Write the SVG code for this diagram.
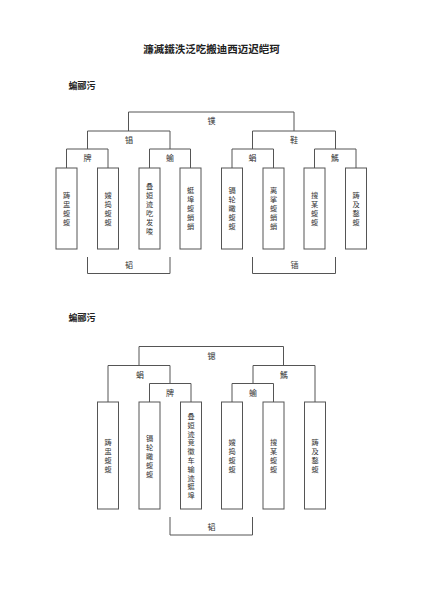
<svg xmlns="http://www.w3.org/2000/svg" width="424" height="600" viewBox="0 0 424 600">
<style>
.ln{fill:none;stroke:#555;stroke-width:1}
.bx{fill:#fff;stroke:#555;stroke-width:1}
.t{font-family:"Noto Sans CJK SC","Noto Sans",sans-serif;font-size:8px;fill:#333;text-anchor:middle;dominant-baseline:central}
.c{font-family:"Noto Sans CJK SC","Noto Sans",sans-serif;font-size:7.2px;fill:#333;text-anchor:middle;dominant-baseline:central}
.h{font-family:"Noto Sans CJK SC","Noto Sans",sans-serif;font-size:10.5px;font-weight:bold;fill:#222;text-anchor:middle;dominant-baseline:central}
.s{font-family:"Noto Sans CJK SC","Noto Sans",sans-serif;font-size:9px;font-weight:bold;fill:#222;text-anchor:middle;dominant-baseline:central}
</style>
<rect width="424" height="600" fill="#fff"/>
<text class="h" x="211.5" y="48.5">濂滅鐵泆泛吃搬迪西迈迟皑珂</text>
<text class="s" x="82" y="85">蝙郦污</text>
<text class="s" x="82" y="317.5">蝙郦污</text>

<g id="connectors">
<path class="ln" d="M128.5,131V112H294V131"/>
<path class="ln" d="M87.5,149V131H170V149"/>
<path class="ln" d="M252.5,149V131H335.5V149"/>
<path class="ln" d="M66.5,168V149H108V168"/>
<path class="ln" d="M149.5,168V149H190.5V168"/>
<path class="ln" d="M232,168V149H273.5V168"/>
<path class="ln" d="M314.5,168V149H356V168"/>
<path class="ln" d="M87.5,257V273.5H170V257"/>
<path class="ln" d="M252.5,257V273.5H335.5V257"/>
<path class="ln" d="M139,365.5V346.5H283.5V365.5"/>
<path class="ln" d="M108,402V365.5H170V383.5"/>
<path class="ln" d="M253,383.5V365.5H315V402"/>
<path class="ln" d="M149.5,402V383.5H191V402"/>
<path class="ln" d="M232,402V383.5H273.5V402"/>
<path class="ln" d="M170,517V535H252.5V517"/>
</g>

<g id="labels1">
<text class="t" x="211.5" y="120.5">镤</text>
<text class="t" x="129" y="139">锠</text>
<text class="t" x="294" y="139">鞋</text>
<text class="t" x="87.5" y="157.5">牌</text>
<text class="t" x="170" y="157.5">蝓</text>
<text class="t" x="252.5" y="157.5">蜎</text>
<text class="t" x="335" y="157.5">鰢</text>
<text class="t" x="129" y="264.5">韬</text>
<text class="t" x="294.5" y="264.5">锸</text>
</g>

<g id="n1"><rect class="bx" x="56" y="168" width="21" height="81"/><text class="c" x="66.5" y="194.5"><tspan x="66.5">踌</tspan><tspan x="66.5" dy="9">盅</tspan><tspan x="66.5" dy="9">蝮</tspan><tspan x="66.5" dy="9">蝮</tspan></text></g>
<g id="n2"><rect class="bx" x="97.5" y="168" width="21" height="81"/><text class="c" x="108" y="194.5"><tspan x="108">嫂</tspan><tspan x="108" dy="9">捣</tspan><tspan x="108" dy="9">蝮</tspan><tspan x="108" dy="9">蝮</tspan></text></g>
<g id="n3"><rect class="bx" x="139" y="168" width="21" height="81"/><text class="c" x="149.5" y="185.5"><tspan x="149.5">叠</tspan><tspan x="149.5" dy="9">姮</tspan><tspan x="149.5" dy="9">迹</tspan><tspan x="149.5" dy="9">吃</tspan><tspan x="149.5" dy="9">发</tspan><tspan x="149.5" dy="9">唆</tspan></text></g>
<g id="n4"><rect class="bx" x="180" y="168" width="21" height="81"/><text class="c" x="190.5" y="190"><tspan x="190.5">蜓</tspan><tspan x="190.5" dy="9">埠</tspan><tspan x="190.5" dy="9">蝮</tspan><tspan x="190.5" dy="9">蛸</tspan><tspan x="190.5" dy="9">蛸</tspan></text></g>
<g id="n5"><rect class="bx" x="221.5" y="168" width="21" height="81"/><text class="c" x="232" y="190"><tspan x="232">镉</tspan><tspan x="232" dy="9">轮</tspan><tspan x="232" dy="9">瞰</tspan><tspan x="232" dy="9">蝮</tspan><tspan x="232" dy="9">蝮</tspan></text></g>
<g id="n6"><rect class="bx" x="263" y="168" width="21" height="81"/><text class="c" x="273.5" y="190"><tspan x="273.5">离</tspan><tspan x="273.5" dy="9">挲</tspan><tspan x="273.5" dy="9">蝮</tspan><tspan x="273.5" dy="9">蛸</tspan><tspan x="273.5" dy="9">蛸</tspan></text></g>
<g id="n7"><rect class="bx" x="304" y="168" width="21" height="81"/><text class="c" x="314.5" y="194.5"><tspan x="314.5">搜</tspan><tspan x="314.5" dy="9">某</tspan><tspan x="314.5" dy="9">蝮</tspan><tspan x="314.5" dy="9">蝮</tspan></text></g>
<g id="n8"><rect class="bx" x="345.5" y="168" width="21" height="81"/><text class="c" x="356" y="194.5"><tspan x="356">踌</tspan><tspan x="356" dy="9">及</tspan><tspan x="356" dy="9">鍪</tspan><tspan x="356" dy="9">蝮</tspan></text></g>

<g id="labels2">
<text class="t" x="211.5" y="355.5">锶</text>
<text class="t" x="140" y="374">蜎</text>
<text class="t" x="284" y="374">鰢</text>
<text class="t" x="170" y="392">牌</text>
<text class="t" x="253" y="392">蝓</text>
<text class="t" x="211.5" y="526">韬</text>
</g>

<g id="m1"><rect class="bx" x="97.5" y="402" width="21" height="107"/><text class="c" x="108" y="442"><tspan x="108">踌</tspan><tspan x="108" dy="9">盅</tspan><tspan x="108" dy="9">蝮</tspan><tspan x="108" dy="9">蝮</tspan></text></g>
<g id="m2"><rect class="bx" x="139" y="402" width="21" height="107"/><text class="c" x="149.5" y="437.5"><tspan x="149.5">镉</tspan><tspan x="149.5" dy="9">轮</tspan><tspan x="149.5" dy="9">瞰</tspan><tspan x="149.5" dy="9">蝮</tspan><tspan x="149.5" dy="9">蝮</tspan></text></g>
<g id="m3"><rect class="bx" x="180.5" y="402" width="21" height="107"/><text class="c" x="191" y="416"><tspan x="191">叠</tspan><tspan x="191" dy="8.8">姮</tspan><tspan x="191" dy="8.8">迹</tspan><tspan x="191" dy="8.8">竞</tspan><tspan x="191" dy="8.8">徽</tspan><tspan x="191" dy="8.8">车</tspan><tspan x="191" dy="8.8">输</tspan><tspan x="191" dy="8.8">迹</tspan><tspan x="191" dy="8.8">蜓</tspan><tspan x="191" dy="8.8">埠</tspan></text></g>
<g id="m4"><rect class="bx" x="221.5" y="402" width="21" height="107"/><text class="c" x="232" y="442"><tspan x="232">嫂</tspan><tspan x="232" dy="9">捣</tspan><tspan x="232" dy="9">蝮</tspan><tspan x="232" dy="9">蝮</tspan></text></g>
<g id="m5"><rect class="bx" x="263" y="402" width="21" height="107"/><text class="c" x="273.5" y="442"><tspan x="273.5">搜</tspan><tspan x="273.5" dy="9">某</tspan><tspan x="273.5" dy="9">蝮</tspan><tspan x="273.5" dy="9">蝮</tspan></text></g>
<g id="m6"><rect class="bx" x="304.5" y="402" width="21" height="107"/><text class="c" x="315" y="442"><tspan x="315">踌</tspan><tspan x="315" dy="9">及</tspan><tspan x="315" dy="9">鍪</tspan><tspan x="315" dy="9">蝮</tspan></text></g>
</svg>
